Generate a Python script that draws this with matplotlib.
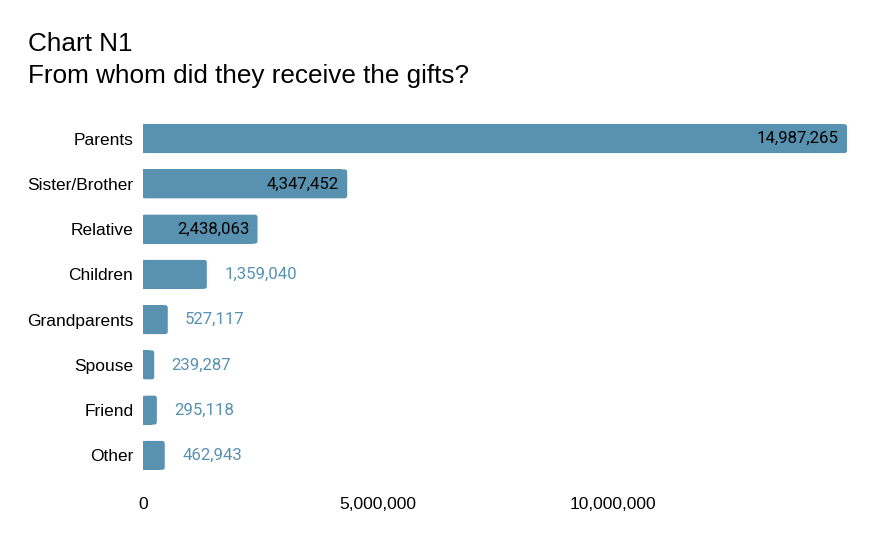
import matplotlib
matplotlib.use("Agg")
import matplotlib.pyplot as plt
from matplotlib.patches import FancyBboxPatch
from matplotlib.ticker import FuncFormatter

categories = ["Parents", "Sister/Brother", "Relative", "Children",
              "Grandparents", "Spouse", "Friend", "Other"]
values = [14987265, 4347452, 2438063, 1359040, 527117, 239287, 295118, 462943]
xticks = [0, 5000000, 10000000]

BAR_COLOR = "#5892b0"
INSIDE_MIN = 2000000  # values above this get their label inside the bar
BAR_H = 0.64

fig = plt.figure(figsize=(8.77, 5.43), dpi=100)
# axes: x from 143px to 847px, bars from ~124px to ~470px
ax = fig.add_axes([143 / 877, 1 - 478 / 543, (847 - 143) / 877, (478 - 116) / 543])

ypos = list(range(len(categories)))
ax.set_ylim(len(categories) - 0.5, -0.5)
ax.set_xlim(0, max(values))

# data units per pixel, to round the right end of each bar by ~2px
x_per_px = max(values) / (847 - 143)
y_per_px = len(categories) / (478 - 116)
r = 2.5 * x_per_px

# square left part + rounded full bar -> rounded right corners only
ax.barh(ypos, [max(v - 2 * r, 0) for v in values], height=BAR_H,
        color=BAR_COLOR, linewidth=0)
for y, v in zip(ypos, values):
    ax.add_patch(FancyBboxPatch((0, y - BAR_H / 2), v, BAR_H,
                                boxstyle=f"round,pad=0,rounding_size={r}",
                                mutation_aspect=y_per_px / x_per_px,
                                facecolor=BAR_COLOR, edgecolor="none"))

for y, v in zip(ypos, values):
    txt = f"{v:,}"
    if v > INSIDE_MIN:
        ax.annotate(txt, (v, y), xytext=(-6, 0), textcoords="offset points",
                    ha="right", va="center", fontsize=12.1, color="black",
                    family="Roboto")
    else:
        ax.annotate(txt, (v, y), xytext=(12.5, 0), textcoords="offset points",
                    ha="left", va="center", fontsize=12.1, color=BAR_COLOR,
                    family="Roboto")

ax.set_yticks(ypos)
ax.set_yticklabels(categories, family="Liberation Sans", fontsize=12.5)
ax.set_xticks(xticks)
ax.xaxis.set_major_formatter(FuncFormatter(lambda x, p: f"{int(x):,}"))
for lab in ax.get_xticklabels():
    lab.set_family("Liberation Sans")
    lab.set_fontsize(12.5)
ax.tick_params(axis="both", length=0)
ax.tick_params(axis="y", pad=7)
ax.tick_params(axis="x", pad=14)
for s in ax.spines.values():
    s.set_visible(False)

fig.text(28 / 877, 1 - 44 / 543, "Chart N1", family="Liberation Sans",
         fontsize=18.8, va="center", ha="left")
fig.text(28 / 877, 1 - 76 / 543, "From whom did they receive the gifts?",
         family="Liberation Sans", fontsize=18.8, va="center", ha="left")

fig.savefig("out.png", dpi=100)
